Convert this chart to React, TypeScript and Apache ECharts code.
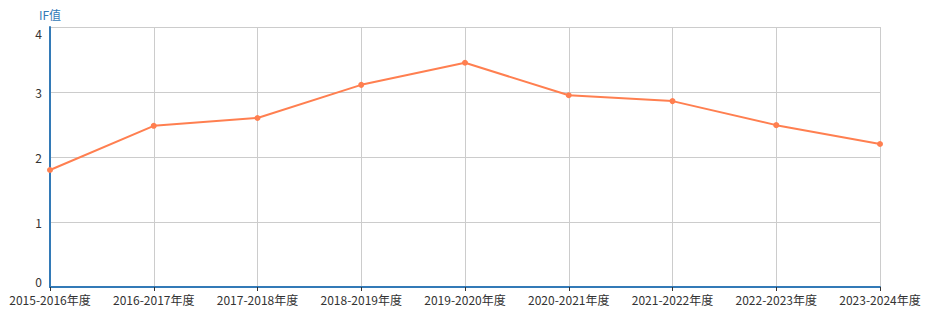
import React, { useEffect, useRef } from "react";
import * as echarts from "echarts";

const categories = [
  "2015-2016年度",
  "2016-2017年度",
  "2017-2018年度",
  "2018-2019年度",
  "2019-2020年度",
  "2020-2021年度",
  "2021-2022年度",
  "2022-2023年度",
  "2023-2024年度",
];
const ifValues = [1.8, 2.48, 2.6, 3.11, 3.45, 2.95, 2.86, 2.49, 2.2];
const yAxisName = "IF值";

const FONT = "'Microsoft YaHei', 'Noto Sans CJK SC', sans-serif";

export default function App() {
  const ref = useRef<HTMLDivElement>(null);
  useEffect(() => {
    if (!ref.current) return;
    const chart = echarts.init(ref.current, undefined, { renderer: "svg" });
    chart.setOption({
      animation: false,
      textStyle: { fontFamily: FONT },
      grid: { left: 50, right: 51, top: 27, bottom: 42, containLabel: false },
      xAxis: {
        type: "category",
        data: categories,
        boundaryGap: false,
        axisLine: { lineStyle: { color: "#337ab7", width: 2 } },
        axisTick: { show: true, interval: 0, length: 4, lineStyle: { color: "#333" } },
        axisLabel: { interval: 0, hideOverlap: false, color: "#333", fontSize: 12, margin: 6, fontFamily: FONT },
        splitLine: { show: true, interval: 0, lineStyle: { color: "#ccc" } },
      },
      yAxis: {
        type: "value",
        min: 0,
        max: 4,
        interval: 1,
        name: yAxisName,
        nameLocation: "end",
        nameGap: 7,
        nameTextStyle: { color: "#337ab7", fontSize: 12, fontFamily: FONT },
        axisLine: { show: true, lineStyle: { color: "#337ab7", width: 2 } },
        axisTick: { show: false },
        axisLabel: {
          color: "#333",
          fontSize: 12,
          margin: 8,
          fontFamily: FONT,
          verticalAlignMaxLabel: "top",
          verticalAlignMinLabel: "bottom",
        },
        splitLine: { show: true, lineStyle: { color: "#ccc" } },
      },
      series: [
        {
          type: "line",
          data: ifValues,
          symbol: "circle",
          symbolSize: 6,
          itemStyle: { color: "#ff7f50" },
          lineStyle: { color: "#ff7f50", width: 2 },
        },
      ],
    });
    return () => chart.dispose();
  }, []);
  return <div ref={ref} style={{ width: 931, height: 329, position: "absolute", left: 0, top: 0 }} />;
}
